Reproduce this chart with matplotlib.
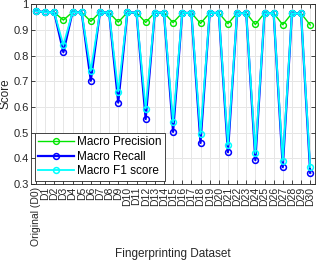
import numpy as np
import matplotlib
matplotlib.use('Agg')
import matplotlib.pyplot as plt

plt.rcParams['font.family'] = ['Liberation Sans', 'DejaVu Sans']

labels = ['Original (D0)'] + ['D%d' % i for i in range(1, 31)]

precision = [0.973, 0.969, 0.968, 0.938, 0.969, 0.968, 0.933, 0.968, 0.967, 0.930,
             0.968, 0.967, 0.929, 0.967, 0.967, 0.928, 0.966, 0.966, 0.925, 0.966,
             0.966, 0.924, 0.965, 0.965, 0.921, 0.965, 0.965, 0.920, 0.964, 0.964,
             0.919]
recall = [0.973, 0.969, 0.968, 0.813, 0.969, 0.968, 0.702, 0.968, 0.967, 0.617,
          0.968, 0.967, 0.553, 0.967, 0.967, 0.503, 0.966, 0.966, 0.460, 0.966,
          0.966, 0.424, 0.965, 0.965, 0.393, 0.965, 0.965, 0.366, 0.964, 0.964,
          0.344]
f1 = [0.973, 0.969, 0.968, 0.841, 0.969, 0.968, 0.741, 0.968, 0.967, 0.660,
      0.968, 0.967, 0.594, 0.967, 0.967, 0.540, 0.966, 0.966, 0.496, 0.966,
      0.966, 0.453, 0.965, 0.965, 0.421, 0.965, 0.965, 0.391, 0.964, 0.964,
      0.366]

x = np.arange(len(labels))

fig = plt.figure(figsize=(3.17, 2.60), dpi=100)
ax = fig.add_axes([0.099, 0.292, 0.894, 0.692])

ax.plot(x, precision, '-o', color=(0, 0.9, 0), lw=1, ms=4.2, mfc='none', mew=1,
        label='Macro Precision')
ax.plot(x, recall, '-o', color=(0, 0, 1), lw=1.6, ms=4.2, mfc='none', mew=1.1,
        label='Macro Recall')
ax.plot(x, f1, '-o', color=(0, 1, 1), lw=1.3, ms=4.2, mfc='none', mew=1.1,
        label='Macro F1 score')

ax.set_xlim(-0.5, 30.5)
ax.set_ylim(0.3, 1.0)
ax.set_xticks(x)
ax.set_xticklabels(labels, rotation=90, fontsize=7.5)
ax.set_yticks(np.arange(0.3, 1.01, 0.1))
ax.set_yticklabels(['0.3', '0.4', '0.5', '0.6', '0.7', '0.8', '0.9', '1'], fontsize=8)
ax.tick_params(direction='in', top=True, right=True, length=3, width=0.6, pad=2,
               colors='#262626')
ax.grid(True, color='#e6e6e6', lw=0.7)
ax.set_axisbelow(True)
for s in ax.spines.values():
    s.set_linewidth(0.6)
    s.set_color('#262626')

ax.set_xlabel('Fingerprinting Dataset', fontsize=8.5, color='#262626')
ax.set_ylabel('Score', fontsize=8.5, color='#262626')
ax.xaxis.set_label_coords(0.5, -0.355)
ax.yaxis.set_label_coords(-0.07, 0.5)

leg = ax.legend(loc='lower left', fontsize=8.5, handlelength=3, borderpad=0.3,
                labelspacing=0.2, handletextpad=0.3, borderaxespad=0.3,
                fancybox=False, framealpha=1)
leg.get_frame().set_edgecolor('#262626')
leg.get_frame().set_linewidth(0.6)

fig.savefig('out.png', dpi=100)
